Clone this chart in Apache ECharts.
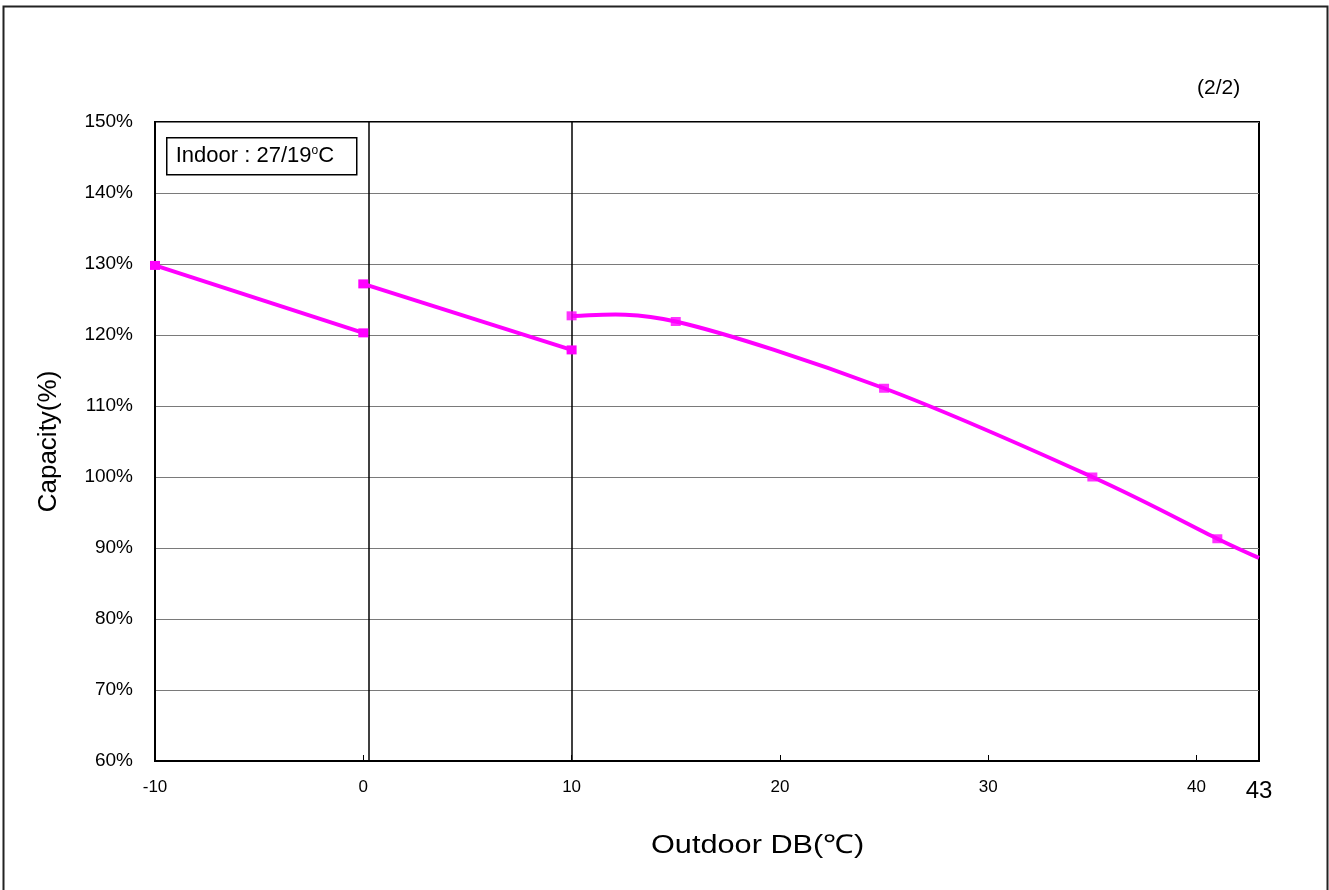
<!DOCTYPE html>
<html>
<head>
<meta charset="utf-8">
<script src="https://cdn.jsdelivr.net/npm/echarts@6/dist/echarts.min.js"></script>
<style>
html,body{margin:0;padding:0;background:#fff;}
#c{width:1329px;height:890px;}
</style>
</head>
<body>
<div id="c"></div>
<script>
// ---- data ----
var seg1X = [-10, 0];
var seg1Y = [129.8, 120.3];
var seg2X = [0, 10];
var seg2Y = [127.2, 117.9];
var seg3X = [10, 15, 25, 35, 41, 43];
var seg3Y = [122.7, 121.9, 112.5, 100.0, 91.3, 88.6];
var seg3Marker = [true, true, true, true, true, false];
var xTickLabels = [-10, 0, 10, 20, 30, 40, 43];
var xTicks = [-10, 0, 10, 20, 30, 40];
var refLinesX = [0.28, 10];
var yMin = 60, yMax = 150, yStep = 10;
var xMin = -10, xMax = 43;

var FONT = 'Arial, "Liberation Sans", sans-serif';
var MAG = '#FF00FF';
var LW = 4;
var SYM = [10, 9];

function pairs(xs, ys) {
  return xs.map(function (x, i) { return [x, ys[i]]; });
}

function lineSeries(xs, ys) {
  return {
    type: 'line',
    data: pairs(xs, ys),
    symbol: 'rect',
    symbolSize: SYM,
    showAllSymbol: true,
    lineStyle: { color: MAG, width: LW },
    itemStyle: { color: MAG },
    z: 5,
    animation: false
  };
}

// smoothed line through seg3 (spreadsheet-style Catmull-Rom), positioned via the axes' scales
var seg3Data = pairs(seg3X, seg3Y);
var curveSeries = {
  type: 'custom',
  data: seg3Data,
  encode: { x: 0, y: 1 },
  z: 4,
  clip: false,
  animation: false,
  renderItem: function (params, api) {
    if (params.dataIndex !== 0) return { type: 'group', children: [] };
    var pts = seg3Data.map(function (d) { return api.coord(d); });
    var n = pts.length;
    var d = 'M' + pts[0][0] + ' ' + pts[0][1];
    for (var i = 0; i < n - 1; i++) {
      var p0 = pts[i - 1] || pts[i];
      var p1 = pts[i];
      var p2 = pts[i + 1];
      var p3 = pts[i + 2] || pts[i + 1];
      var c1x = p1[0] + (p2[0] - p0[0]) / 6, c1y = p1[1] + (p2[1] - p0[1]) / 6;
      var c2x = p2[0] - (p3[0] - p1[0]) / 6, c2y = p2[1] - (p3[1] - p1[1]) / 6;
      d += ' C' + c1x + ' ' + c1y + ' ' + c2x + ' ' + c2y + ' ' + p2[0] + ' ' + p2[1];
    }
    return {
      type: 'path',
      shape: { pathData: d },
      style: { fill: 'none', stroke: MAG, lineWidth: LW, lineJoin: 'round' }
    };
  }
};

var seg3MarkerData = pairs(seg3X, seg3Y).filter(function (d, i) { return seg3Marker[i]; });
var markerSeries = {
  type: 'scatter',
  data: seg3MarkerData,
  symbol: 'rect',
  symbolSize: SYM,
  itemStyle: { color: MAG },
  z: 6,
  animation: false
};

var chart = echarts.init(document.getElementById('c'), null, { renderer: 'canvas' });

var s1 = lineSeries(seg1X, seg1Y);
s1.markLine = {
  silent: true,
  symbol: 'none',
  label: { show: false },
  lineStyle: { color: '#000', width: 1.5, type: 'solid' },
  data: refLinesX.map(function (v) { return { xAxis: v }; }),
  animation: false
};
var s2 = lineSeries(seg2X, seg2Y);

chart.setOption({
  animation: false,
  backgroundColor: '#fff',
  textStyle: { fontFamily: FONT, color: '#000' },
  grid: {
    left: 155, right: 70, top: 122, bottom: 129,
    show: true, borderColor: '#000', borderWidth: 2, backgroundColor: 'transparent'
  },
  xAxis: {
    type: 'value',
    min: xMin, max: xMax,
    interval: 10,
    axisLine: { show: true, onZero: false, lineStyle: { color: '#000', width: 2 } },
    axisTick: { show: true, inside: true, length: 6, customValues: xTicks, lineStyle: { color: '#000', width: 1 } },
    axisLabel: {
      customValues: xTickLabels,
      margin: 18,
      fontSize: 17,
      color: '#000',
      fontFamily: FONT,
      formatter: function (v) { return v === 43 ? '{big|43}' : String(v); },
      rich: { big: { fontSize: 24, color: '#000', fontFamily: FONT, padding: [0, 0, 4, 0] } }
    },
    splitLine: { show: false }
  },
  yAxis: {
    type: 'value',
    min: yMin, max: yMax, interval: yStep,
    name: 'Capacity(%)',
    nameLocation: 'middle',
    nameGap: 93,
    nameRotate: 90,
    nameTextStyle: { fontSize: 26, color: '#000', fontFamily: FONT },
    axisLine: { show: true, onZero: false, lineStyle: { color: '#000', width: 2 } },
    axisTick: { show: false },
    axisLabel: { formatter: '{value}%', fontSize: 19, color: '#000', margin: 22, fontFamily: FONT },
    splitLine: { show: true, lineStyle: { color: '#7a7a7a', width: 1.2 } }
  },
  series: [s1, s2, curveSeries, markerSeries],
  graphic: [
    {
      type: 'rect', left: 1, top: 4, silent: true, z: 100,
      shape: { width: 1324, height: 900 },
      style: { fill: 'none', stroke: '#222', lineWidth: 2 }
    },
    {
      type: 'text', left: 1197, top: 78, z: 100,
      style: { text: '(2/2)', font: '21px ' + FONT, fill: '#000' }
    },
    {
      type: 'text', x: 651, y: 833, z: 100, scaleX: 1.18,
      style: { text: 'Outdoor DB(\u2103)', font: '26px ' + FONT, fill: '#000' }
    },
    {
      type: 'group', left: 166, top: 137, z: 100,
      children: [
        { type: 'rect', shape: { x: 0, y: 0, width: 190, height: 37 },
          style: { fill: '#fff', stroke: '#000', lineWidth: 1.5 } },
        { type: 'text', x: 9, y: 18,
          style: {
            text: '{t|Indoor : 27/19}{s|o}{t|C}',
            verticalAlign: 'middle',
            rich: {
              t: { fontSize: 22, fontFamily: FONT, fill: '#000', color: '#000' },
              s: { fontSize: 12, fontFamily: FONT, fill: '#000', color: '#000', verticalAlign: 'top', padding: [0, 0, 9, 0] }
            }
          } }
      ]
    }
  ]
});
</script>
</body>
</html>
